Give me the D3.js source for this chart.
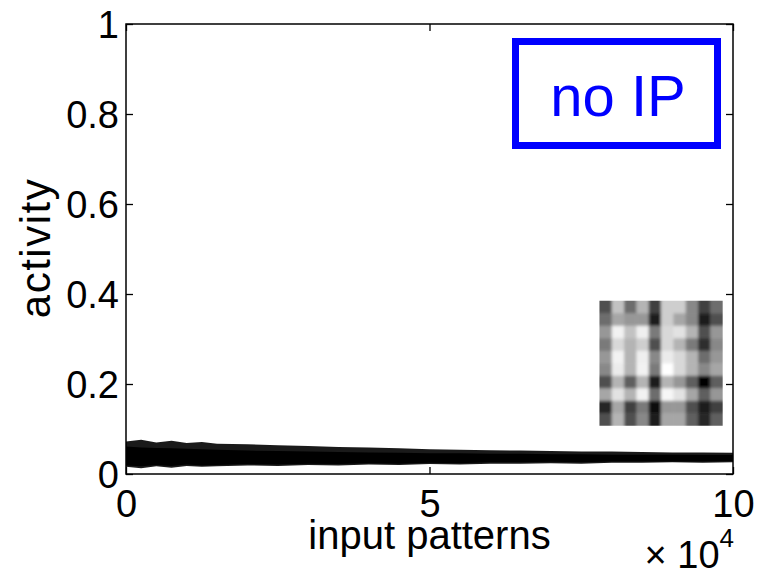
<!DOCTYPE html>
<html>
<head>
<meta charset="utf-8">
<script src="https://cdn.jsdelivr.net/npm/d3@7"></script>
<style>
  body { margin: 0; background: #fff; }
  text { font-family: "Liberation Sans", Arial, sans-serif; fill: #000; }
</style>
</head>
<body>
<svg id="chart" width="757" height="574"></svg>
<script>
// x in units of 10^4 input patterns
var bandX = [0, 0.25, 0.5, 0.75, 1, 1.25, 1.5, 2, 2.5, 3, 3.5, 4, 4.5, 5, 5.5, 6, 6.5, 7, 7.5, 8, 8.5, 9, 9.5, 10];
// outer (sparse) envelope of the activity trace
var outerHigh = [0.072, 0.076, 0.070, 0.074, 0.069, 0.071, 0.067, 0.066, 0.064, 0.062, 0.060, 0.059, 0.057, 0.055, 0.054, 0.053, 0.052, 0.051, 0.050, 0.050, 0.049, 0.048, 0.048, 0.047];
var outerLow = [0.016, 0.013, 0.017, 0.014, 0.018, 0.016, 0.017, 0.019, 0.018, 0.020, 0.019, 0.021, 0.020, 0.022, 0.021, 0.023, 0.023, 0.024, 0.023, 0.025, 0.025, 0.026, 0.025, 0.026];
// dense core of the trace
var coreHigh = [0.061, 0.059, 0.058, 0.057, 0.056, 0.055, 0.054, 0.052, 0.051, 0.050, 0.049, 0.048, 0.047, 0.046, 0.046, 0.045, 0.045, 0.044, 0.044, 0.043, 0.043, 0.043, 0.042, 0.042];
var coreLow = [0.019, 0.017, 0.020, 0.018, 0.021, 0.019, 0.020, 0.022, 0.021, 0.023, 0.022, 0.024, 0.023, 0.025, 0.024, 0.026, 0.026, 0.027, 0.026, 0.028, 0.028, 0.028, 0.028, 0.029];

var xTicks = [0, 5, 10];
var yTicks = [0, 0.2, 0.4, 0.6, 0.8, 1];

// inset receptive field, 10x10 gray levels (0 = black, 1 = white)
var field = [
  [0.25, 0.65, 0.35, 0.60, 0.20, 0.70, 0.70, 0.45, 0.20, 0.35],
  [0.35, 0.55, 0.50, 0.50, 0.10, 0.70, 0.55, 0.45, 0.10, 0.25],
  [0.50, 0.90, 0.65, 0.88, 0.40, 0.75, 0.80, 0.60, 0.25, 0.50],
  [0.40, 0.75, 0.60, 0.70, 0.25, 0.75, 0.60, 0.40, 0.15, 0.45],
  [0.50, 0.90, 0.60, 0.88, 0.45, 0.85, 0.75, 0.60, 0.35, 0.50],
  [0.45, 0.85, 0.60, 0.90, 0.40, 1.00, 0.75, 0.60, 0.45, 0.55],
  [0.25, 0.60, 0.30, 0.60, 0.10, 0.60, 0.50, 0.30, 0.02, 0.30],
  [0.55, 0.80, 0.60, 0.90, 0.35, 0.93, 0.80, 0.55, 0.30, 0.50],
  [0.12, 0.55, 0.20, 0.40, 0.03, 0.50, 0.50, 0.25, 0.10, 0.20],
  [0.25, 0.60, 0.25, 0.45, 0.10, 0.55, 0.55, 0.30, 0.12, 0.30]
];
// inset extent in data units
var insetX = [7.8, 9.83];
var insetY = [0.385, 0.107];

var margin = { top: 24, right: 24, bottom: 100, left: 126 },
  width = 757 - margin.left - margin.right,
  height = 574 - margin.top - margin.bottom;

var svg = d3.select("#chart");
var g = svg.append("g")
  .attr("transform", "translate(" + margin.left + "," + margin.top + ")");

var x = d3.scaleLinear().domain([0, 10]).range([0, width]);
var y = d3.scaleLinear().domain([0, 1]).range([height, 0]);

// activity band
var idx = d3.range(bandX.length);
g.append("path")
  .datum(idx)
  .attr("fill", "#1a1a1a")
  .attr("d", d3.area()
    .x(function (i) { return x(bandX[i]); })
    .y0(function (i) { return y(outerLow[i]); })
    .y1(function (i) { return y(outerHigh[i]); }));
g.append("path")
  .datum(idx)
  .attr("fill", "#000")
  .attr("d", d3.area()
    .x(function (i) { return x(bandX[i]); })
    .y0(function (i) { return y(coreLow[i]); })
    .y1(function (i) { return y(coreHigh[i]); }));

// inset image (slightly smoothed like the original bitmap)
var cx = d3.scaleBand().domain(d3.range(10)).range([x(insetX[0]), x(insetX[1])]);
var cy = d3.scaleBand().domain(d3.range(10)).range([y(insetY[0]), y(insetY[1])]);
var defs = svg.append("defs");
defs.append("filter").attr("id", "soft")
  .append("feGaussianBlur").attr("stdDeviation", 1.6);
defs.append("clipPath").attr("id", "insetClip")
  .append("rect")
  .attr("x", x(insetX[0])).attr("y", y(insetY[0]))
  .attr("width", x(insetX[1]) - x(insetX[0]))
  .attr("height", y(insetY[1]) - y(insetY[0]));

var cells = [];
field.forEach(function (row, r) {
  row.forEach(function (v, c) { cells.push({ r: r, c: c, v: v }); });
});
g.append("g")
  .attr("clip-path", "url(#insetClip)")
  .append("g")
  .attr("filter", "url(#soft)")
  .selectAll("rect")
  .data(cells)
  .enter()
  .append("rect")
  .attr("x", function (d) { return cx(d.c) - (d.c === 0 ? 4 : 0); })
  .attr("y", function (d) { return cy(d.r) - (d.r === 0 ? 4 : 0); })
  .attr("width", function (d) { return cx.bandwidth() + 0.5 + (d.c === 0 || d.c === 9 ? 4 : 0); })
  .attr("height", function (d) { return cy.bandwidth() + 0.5 + (d.r === 0 || d.r === 9 ? 4 : 0); })
  .attr("fill", function (d) { return d3.interpolateGreys(1 - d.v); });

// axes (matlab style box, inward ticks)
var tickLen = 7;
var xb = g.append("g").attr("transform", "translate(0," + height + ")")
  .call(d3.axisBottom(x).tickValues(xTicks).tickSizeInner(-tickLen).tickSizeOuter(0).tickPadding(16));
var yl = g.append("g")
  .call(d3.axisLeft(y).tickValues(yTicks).tickFormat(d3.format("~g")).tickSizeInner(-tickLen).tickSizeOuter(0).tickPadding(7));
g.append("g")
  .call(d3.axisTop(x).tickValues(xTicks).tickSizeInner(-tickLen).tickSizeOuter(0).tickFormat(""));
g.append("g").attr("transform", "translate(" + width + ",0)")
  .call(d3.axisRight(y).tickValues(yTicks).tickSizeInner(-tickLen).tickSizeOuter(0).tickFormat(""));

g.selectAll(".domain").remove();
g.selectAll(".tick line").attr("stroke", "#000").attr("stroke-width", 1.3);
xb.selectAll("text").attr("font-size", 38).attr("font-family", "Liberation Sans").attr("dy", "0.71em");
yl.selectAll("text").attr("font-size", 38).attr("font-family", "Liberation Sans").attr("dy", "0.36em");

g.append("rect")
  .attr("width", width)
  .attr("height", height)
  .attr("fill", "none")
  .attr("stroke", "#000")
  .attr("stroke-width", 1.5);

// axis titles
g.append("text")
  .attr("x", width / 2)
  .attr("y", height + 75)
  .attr("text-anchor", "middle")
  .attr("font-size", 40)
  .text("input patterns");

g.append("text")
  .attr("transform", "translate(-76," + (height / 2 - 1) + ") rotate(-90)")
  .attr("text-anchor", "middle")
  .attr("font-size", 42)
  .attr("letter-spacing", 1.5)
  .text("activity");

// x10^4 multiplier
var mult = g.append("text")
  .attr("x", width + 1)
  .attr("y", height + 94)
  .attr("text-anchor", "end")
  .attr("font-size", 38);
mult.append("tspan").text("\u00d7 10");
mult.append("tspan").attr("font-size", 26).attr("dy", -21).text("4");

// "no IP" label box
svg.append("rect")
  .attr("x", 515.5)
  .attr("y", 41.5)
  .attr("width", 202)
  .attr("height", 104)
  .attr("fill", "#fff")
  .attr("stroke", "#0000ff")
  .attr("stroke-width", 7);
svg.append("text")
  .attr("x", 618)
  .attr("y", 116)
  .attr("text-anchor", "middle")
  .attr("font-family", "DejaVu Sans")
  .attr("font-size", 58)
  .style("fill", "#0000ff")
  .text("no IP");
</script>
</body>
</html>
